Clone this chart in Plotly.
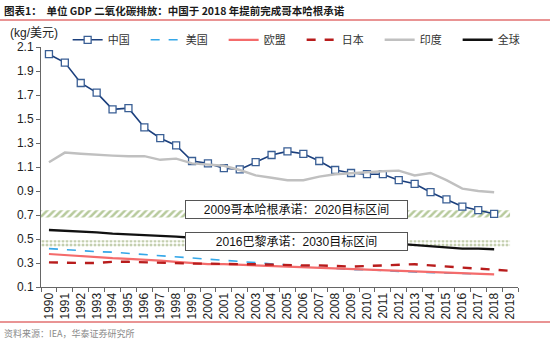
import plotly.graph_objects as go

years = list(range(1990, 2020))
year_labels = [str(y) for y in years]

china = [2.04, 1.97, 1.80, 1.72, 1.58, 1.59, 1.43, 1.34, 1.28, 1.15,
         1.13, 1.09, 1.08, 1.14, 1.20, 1.23, 1.21, 1.15, 1.075, 1.05,
         1.04, 1.04, 0.99, 0.96, 0.89, 0.83, 0.77, 0.74, 0.71, None]
usa = [0.42, 0.41, 0.40, 0.395, 0.39, 0.38, 0.37, 0.36, 0.35, 0.34,
       0.33, 0.32, 0.31, 0.30, 0.295, 0.285, 0.275, 0.262, 0.25, 0.245,
       0.245, 0.235, 0.23, 0.225, 0.22, 0.215, 0.21, 0.21, 0.205, None]
eu = [0.375, 0.365, 0.355, 0.345, 0.34, 0.335, 0.33, 0.32, 0.31, 0.30,
      0.29, 0.29, 0.285, 0.28, 0.275, 0.27, 0.26, 0.255, 0.25, 0.245,
      0.245, 0.235, 0.23, 0.225, 0.22, 0.215, 0.21, 0.21, 0.205, None]
japan = [0.305, 0.30, 0.30, 0.30, 0.31, 0.31, 0.305, 0.30, 0.30, 0.295,
         0.295, 0.29, 0.29, 0.29, 0.285, 0.28, 0.28, 0.28, 0.275, 0.27,
         0.275, 0.28, 0.29, 0.29, 0.28, 0.27, 0.26, 0.25, 0.245, 0.235]
india = [1.14, 1.22, 1.21, 1.20, 1.195, 1.19, 1.19, 1.16, 1.17, 1.13,
         1.12, 1.11, 1.075, 1.03, 1.01, 0.99, 0.99, 1.02, 1.04, 1.05,
         1.06, 1.065, 1.07, 1.03, 1.05, 0.99, 0.92, 0.90, 0.89, None]
world = [0.575, 0.57, 0.565, 0.555, 0.545, 0.54, 0.535, 0.53, 0.52, 0.51,
         0.50, 0.50, 0.50, 0.50, 0.50, 0.49, 0.485, 0.48, 0.48, 0.48,
         0.48, 0.47, 0.46, 0.45, 0.44, 0.43, 0.42, 0.42, 0.415, None]

band_2020 = [0.68, 0.74]   # 2009 Copenhagen pledge, 2020 target range
band_2030 = [0.435, 0.49]  # 2016 Paris pledge, 2030 target range
band_x = [1989.5, 2019]

fig = go.Figure()

# target bands
fig.add_trace(go.Scatter(
    x=[band_x[0], band_x[1], band_x[1], band_x[0], band_x[0]],
    y=[band_2020[0], band_2020[0], band_2020[1], band_2020[1], band_2020[0]],
    mode="lines", line=dict(width=0), fill="toself", fillcolor="white",
    fillpattern=dict(shape="/", fgcolor="#6f963a", bgcolor="white", size=5, solidity=0.5),
    showlegend=False, hoverinfo="skip"))
fig.add_trace(go.Scatter(
    x=[band_x[0], band_x[1], band_x[1], band_x[0], band_x[0]],
    y=[band_2030[0], band_2030[0], band_2030[1], band_2030[1], band_2030[0]],
    mode="lines", line=dict(width=0), fill="toself", fillcolor="white",
    fillpattern=dict(shape=".", fgcolor="#8aa060", bgcolor="white", size=4, solidity=0.45),
    showlegend=False, hoverinfo="skip"))

fig.add_trace(go.Scatter(
    x=years, y=china, name="中国", mode="lines+markers",
    line=dict(color="#1b3f7d", width=1.6),
    marker=dict(symbol="square", size=7, color="white",
                line=dict(color="#3a5f95", width=1.3))))
fig.add_trace(go.Scatter(
    x=years, y=usa, name="美国", mode="lines",
    line=dict(color="#35a7e8", width=1.6, dash="dash")))
fig.add_trace(go.Scatter(
    x=years, y=eu, name="欧盟", mode="lines",
    line=dict(color="#f46b6b", width=2.2)))
fig.add_trace(go.Scatter(
    x=years, y=japan, name="日本", mode="lines",
    line=dict(color="#b81c1c", width=2.4, dash="dash")))
fig.add_trace(go.Scatter(
    x=years, y=india, name="印度", mode="lines",
    line=dict(color="#c0c0c0", width=2.4)))
fig.add_trace(go.Scatter(
    x=years, y=world, name="全球", mode="lines",
    line=dict(color="#111111", width=2.4)))

tick_font = dict(family="Liberation Sans, Arial, sans-serif", size=12, color="#222")

fig.update_layout(
    width=550, height=343,
    margin=dict(l=41, r=32, t=47, b=56),
    paper_bgcolor="white", plot_bgcolor="white",
    font=dict(family="Liberation Sans, Noto Sans CJK SC, sans-serif", color="#222"),
    xaxis=dict(
        range=[1989.5, 2019.5], tickmode="array", tickvals=years, ticktext=year_labels,
        tickangle=-90, ticks="", showgrid=False, zeroline=False,
        showline=True, linecolor="#666", linewidth=1, tickfont=tick_font,
        minor=dict(tick0=1989.5, dtick=1, ticks="outside", ticklen=4,
                   tickcolor="#666", showgrid=False)),
    yaxis=dict(
        range=[0.1, 2.1], tickmode="array",
        tickvals=[0.1, 0.3, 0.5, 0.7, 0.9, 1.1, 1.3, 1.5, 1.7, 1.9, 2.1],
        ticktext=["0.1", "0.3", "0.5", "0.7", "0.9", "1.1", "1.3", "1.5", "1.7", "1.9", "2.1"],
        ticks="outside", ticklen=4, tickcolor="#666", showgrid=False, zeroline=False,
        showline=True, linecolor="#666", linewidth=1, tickfont=tick_font),
    legend=dict(
        orientation="h", x=1.037, y=1.03, xanchor="right", yanchor="middle",
        font=dict(family="Noto Sans CJK SC, sans-serif", size=11, color="#333"),
        entrywidth=33, entrywidthmode="pixels", itemwidth=30,
        bgcolor="rgba(0,0,0,0)", tracegroupgap=0),
    showlegend=True,
)

x_left = -41 / 477
x_right = (550 - 41) / 477

fig.add_shape(type="line", xref="paper", yref="paper", x0=x_left, x1=x_right,
              y0=(287 - 20) / 240, y1=(287 - 20) / 240, line=dict(color="#d42a2a", width=1.2))
fig.add_shape(type="line", xref="paper", yref="paper", x0=x_left, x1=x_right,
              y0=(287 - 322) / 240, y1=(287 - 322) / 240, line=dict(color="#d42a2a", width=1.2))

fig.add_annotation(
    text="<b>图表1：  单位 GDP 二氧化碳排放：中国于 2018 年提前完成哥本哈根承诺</b>",
    xref="paper", yref="paper", x=x_left + 2 / 477, y=(287 - 10) / 240,
    xanchor="left", yanchor="middle", showarrow=False,
    font=dict(family="Noto Sans CJK SC, sans-serif", size=10.5, color="#1a1a1a"))
fig.add_annotation(
    text="资料来源：IEA，华泰证券研究所",
    xref="paper", yref="paper", x=x_left + 2 / 477, y=(287 - 333) / 240,
    xanchor="left", yanchor="middle", showarrow=False,
    font=dict(family="Noto Sans CJK SC, sans-serif", size=9, color="#8a8a8a"))
fig.add_annotation(
    text="(kg/美元)",
    xref="paper", yref="paper", x=(8 - 41) / 477, y=(287 - 33) / 240,
    xanchor="left", yanchor="middle", showarrow=False,
    font=dict(family="Liberation Sans, Noto Sans CJK SC, sans-serif", size=12, color="#222"))

box_font = dict(family="Liberation Sans, Noto Sans CJK SC, sans-serif", size=12, color="#111")
fig.add_annotation(
    text="2009哥本哈根承诺：2020目标区间",
    xref="paper", yref="paper", x=(296 - 41) / 477, y=(287 - 209.5) / 240,
    xanchor="center", yanchor="middle", showarrow=False,
    width=219, height=15, borderpad=1, borderwidth=1, bordercolor="#555",
    bgcolor="white", font=box_font)
fig.add_annotation(
    text="2016巴黎承诺：2030目标区间",
    xref="paper", yref="paper", x=(296 - 41) / 477, y=(287 - 241.5) / 240,
    xanchor="center", yanchor="middle", showarrow=False,
    width=219, height=15, borderpad=1, borderwidth=1, bordercolor="#555",
    bgcolor="white", font=box_font)

fig.write_html("out.html")
